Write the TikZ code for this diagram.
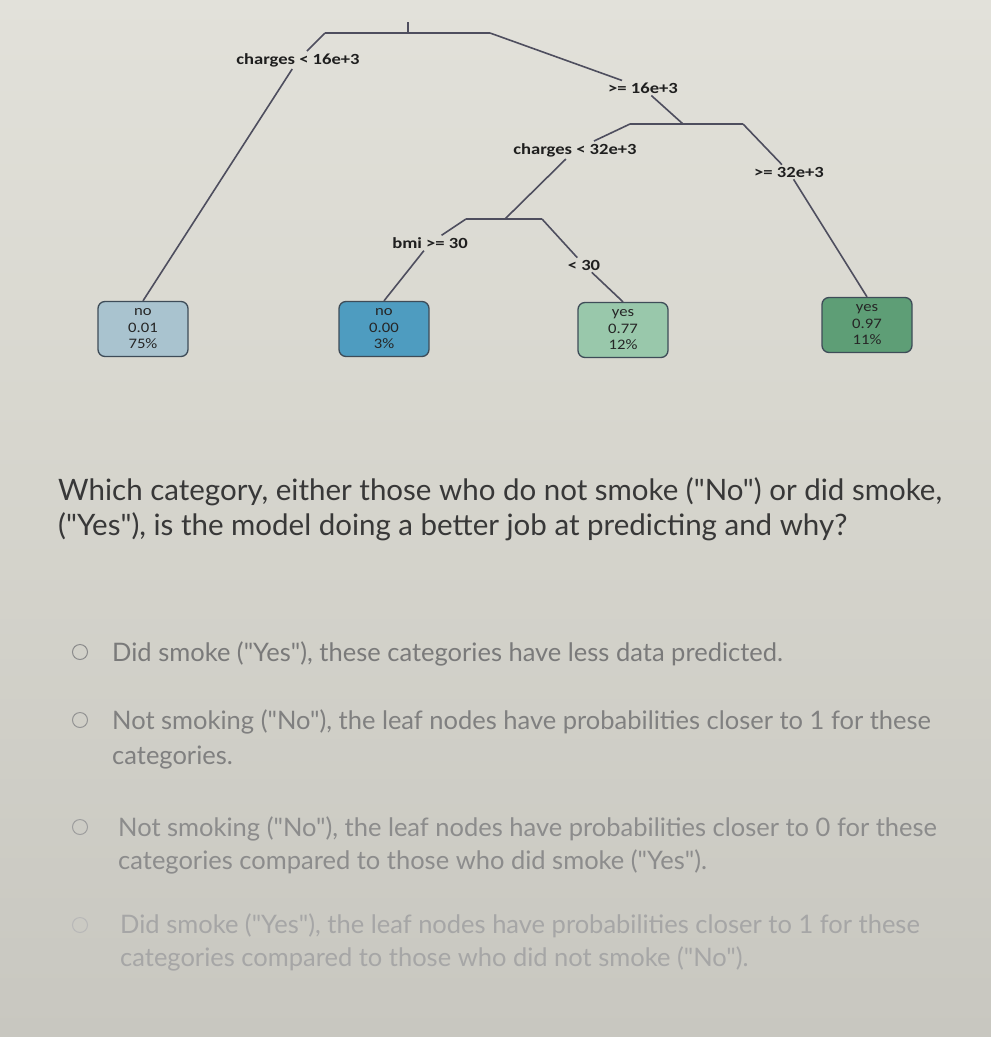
\documentclass[tikz,border=0pt]{standalone}
\usepackage{fontspec}
\setmainfont{Lato}[Ligatures=TeXOff]
\newfontfamily\treefont{Carlito}[FakeStretch=1.2]
\newfontfamily\leaffont{Carlito}[FakeStretch=1.15]
\definecolor{bgtop}{HTML}{E2E1DA}
\definecolor{bgmid}{HTML}{D8D7CF}
\definecolor{bgbot}{HTML}{C8C7C0}
\definecolor{edgecol}{HTML}{4E4E5E}
\definecolor{leafA}{HTML}{A9C3CF}
\definecolor{leafB}{HTML}{4E9CC0}
\definecolor{leafC}{HTML}{99C8AB}
\definecolor{leafD}{HTML}{5E9E76}
\definecolor{leafline}{HTML}{3E4C58}
\begin{document}
\begin{tikzpicture}[x=1pt,y=-1pt,
  edge/.style={draw=edgecol, line width=1.6pt},
  splitlab/.style={font=\treefont\bfseries\fontsize{15.5}{17}\selectfont, text=black!88, inner sep=2pt},
  leaf/.style={draw=leafline, line width=1.3pt, rounded corners=7pt,
     minimum width=90pt, minimum height=55pt, inner sep=0pt, align=center,
     font=\leaffont\fontsize{14.5}{16.5}\selectfont, text=black!85},
  qtext/.style={anchor=base west, inner sep=0pt, text=black!78, font=\fontsize{29.5}{34}\selectfont},
  otext/.style={anchor=base west, inner sep=0pt, font=\fontsize{25.5}{30}\selectfont},
  radio/.style={draw, line width=1pt, circle, minimum size=15pt, inner sep=0pt}
]
\useasboundingbox (0,0) rectangle (991,1037);
\shade[top color=bgtop, bottom color=bgmid] (0,0) rectangle (991,400);
\shade[top color=bgmid, bottom color=bgbot] (0,400) rectangle (991,1037);

% tree skeleton
\coordinate (rtop) at (408,22);
\coordinate (rc) at (408,33);
\coordinate (b1l) at (325,33);
\coordinate (b1r) at (490,33);
\coordinate (j2) at (683,124);
\coordinate (b2l) at (630,124);
\coordinate (b2r) at (743,124);
\coordinate (j3) at (505,219);
\coordinate (b3l) at (466,219);
\coordinate (b3r) at (542,219);

\node[splitlab] (s1) at (298,60) {charges < 16e+3};
\node[splitlab] (s2) at (643,88) {>= 16e+3};
\node[splitlab] (s3) at (575,150) {charges < 32e+3};
\node[splitlab] (s4) at (430,243) {bmi >= 30};
\node[splitlab] (s5) at (584,265) {< 30};
\node[splitlab] (s6) at (789,172) {>= 32e+3};

\node[leaf, fill=leafA] (leaf1) at (143,329) {no\\0.01\\75\%};
\node[leaf, fill=leafB] (leaf2) at (384,329) {no\\0.00\\3\%};
\node[leaf, fill=leafC] (leaf3) at (623,330) {yes\\0.77\\12\%};
\node[leaf, fill=leafD] (leaf4) at (867,325) {yes\\0.97\\11\%};

\draw[edge] (rtop) -- (rc);
\draw[edge] (b1l) -- (b1r);
\draw[edge] (b1l) -- (s1);
\draw[edge] (s1) -- (leaf1.north);
\draw[edge] (b1r) -- (s2);
\draw[edge] (s2) -- (j2);
\draw[edge] (b2l) -- (b2r);
\draw[edge] (b2l) -- (s3);
\draw[edge] (s3) -- (j3);
\draw[edge] (b3l) -- (b3r);
\draw[edge] (b3l) -- (s4);
\draw[edge] (s4) -- (leaf2.north);
\draw[edge] (b3r) -- (s5);
\draw[edge] (s5) -- (leaf3.north);
\draw[edge] (b2r) -- (s6);
\draw[edge] (s6) -- (leaf4.north);

% question
\node[qtext] (q1) at (58,500) {Which category, either those who do not smoke ("No") or did smoke,};
\node[qtext] (q2) at (58,535) {("Yes"), is the model doing a better job at predicting and why?};

% options
\node[radio, draw=black!45] (r1) at (80,652) {};
\node[otext, text=black!52] (o1) at (112,661) {Did smoke ("Yes"), these categories have less data predicted.};
\node[radio, draw=black!42] (r2) at (80,720) {};
\node[otext, text=black!50] (o2a) at (112,729) {Not smoking ("No"), the leaf nodes have probabilities closer to 1 for these};
\node[otext, text=black!50] (o2b) at (112,764) {categories.};
\node[radio, draw=black!38] (r3) at (80,827) {};
\node[otext, text=black!45] (o3a) at (118,836) {Not smoking ("No"), the leaf nodes have probabilities closer to 0 for these};
\node[otext, text=black!45] (o3b) at (118,869) {categories compared to those who did smoke ("Yes").};
\node[radio, draw=black!28] (r4) at (80,925) {};
\node[otext, text=black!35] (o4a) at (120,933) {Did smoke ("Yes"), the leaf nodes have probabilities closer to 1 for these};
\node[otext, text=black!35] (o4b) at (120,966) {categories compared to those who did not smoke ("No").};
\end{tikzpicture}
\end{document}
